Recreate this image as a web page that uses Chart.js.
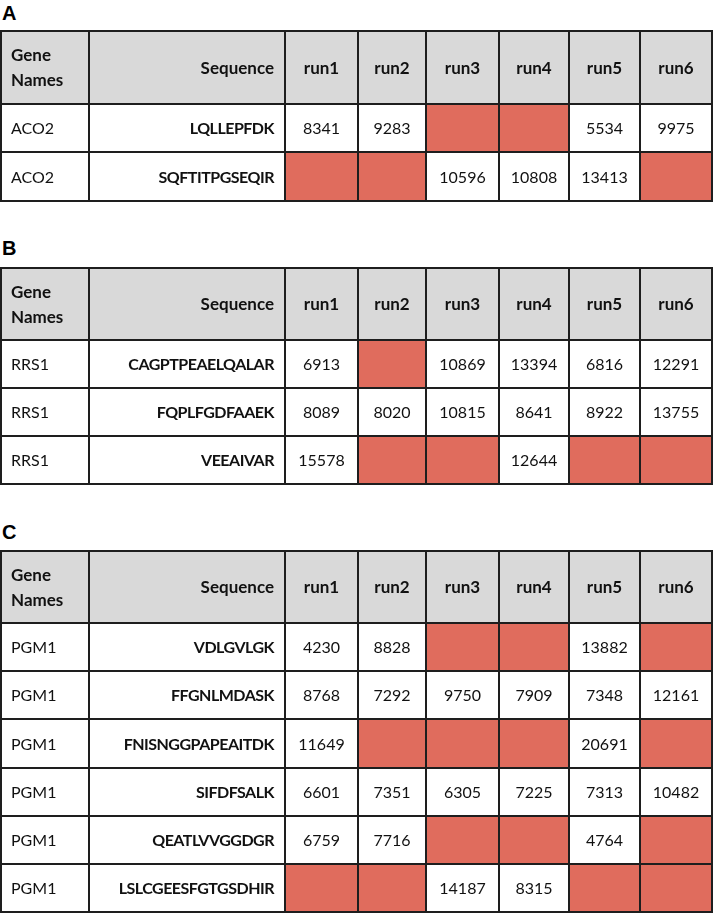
<!DOCTYPE html>
<html>
<head>
<meta charset="utf-8">
<script src="https://cdn.jsdelivr.net/npm/chart.js@4.4.1/dist/chart.umd.min.js"></script>
<style>
    body { margin: 0; background: #fff; width: 714px; height: 914px; position: relative; overflow: hidden; }
    .lbl { position: absolute; left: 2px; font: bold 20px "Liberation Sans", Arial, sans-serif; line-height: 20px; color: #000; }
    .panel { position: absolute; left: 0; width: 714px; }
</style>
</head>
<body>
<div class="lbl" style="top:3px">A</div>
<div class="panel" style="top:30px;height:172px"><canvas id="tableA"></canvas></div>
<div class="lbl" style="top:238px">B</div>
<div class="panel" style="top:267px;height:218px"><canvas id="tableB"></canvas></div>
<div class="lbl" style="top:522px">C</div>
<div class="panel" style="top:550px;height:363px"><canvas id="tableC"></canvas></div>

<script>
// Column titles
const columns = ['Gene Names', 'Sequence', 'run1', 'run2', 'run3', 'run4', 'run5', 'run6'];

// Panel A
const genesA = ['ACO2', 'ACO2'];
const seqA = ['LQLLEPFDK', 'SQFTITPGSEQIR'];
const valuesA = [
    [8341, 9283, null, null, 5534, 9975],
    [null, null, 10596, 10808, 13413, null]
];

// Panel B
const genesB = ['RRS1', 'RRS1', 'RRS1'];
const seqB = ['CAGPTPEAELQALAR', 'FQPLFGDFAAEK', 'VEEAIVAR'];
const valuesB = [
    [6913, null, 10869, 13394, 6816, 12291],
    [8089, 8020, 10815, 8641, 8922, 13755],
    [15578, null, null, 12644, null, null]
];

// Panel C
const genesC = ['PGM1', 'PGM1', 'PGM1', 'PGM1', 'PGM1', 'PGM1'];
const seqC = ['VDLGVLGK', 'FFGNLMDASK', 'FNISNGGPAPEAITDK', 'SIFDFSALK', 'QEATLVVGGDGR', 'LSLCGEESFGTGSDHIR'];
const valuesC = [
    [4230, 8828, null, null, 13882, null],
    [8768, 7292, 9750, 7909, 7348, 12161],
    [11649, null, null, null, 20691, null],
    [6601, 7351, 6305, 7225, 7313, 10482],
    [6759, 7716, null, null, 4764, null],
    [null, null, 14187, 8315, null, null]
];

// layout (scale units)
const colWidths = [88, 196, 73, 68, 73, 70, 71, 72];
const HEADER_UNITS = 1.5;
const FONT = 'Lato, "Open Sans", sans-serif';

const colEdges = colWidths.reduce((acc, w) => { acc.push(acc[acc.length - 1] + w); return acc; }, [0]);

function makeTablePlugin(genes, seqs, values) {
    return {
        id: 'tableCells',
        afterDraw(chart) {
            const { ctx, scales: { x, y } } = chart;
            const px = v => Math.round(x.getPixelForValue(v));
            const py = v => Math.round(y.getPixelForValue(v));
            const nRows = genes.length;

            ctx.save();
            // header
            const hy0 = py(0), hy1 = py(HEADER_UNITS);
            ctx.fillStyle = '#d9d9d9';
            ctx.fillRect(px(colEdges[0]), hy0, px(colEdges[colEdges.length - 1]) - px(colEdges[0]), hy1 - hy0);

            ctx.fillStyle = '#111';
            ctx.textBaseline = 'middle';
            ctx.font = 'bold 17px ' + FONT;
            const hmid = (hy0 + hy1) / 2 + 1;
            ctx.textAlign = 'left';
            ctx.fillText('Gene', px(colEdges[0]) + 10, hmid - 12.5);
            ctx.fillText('Names', px(colEdges[0]) + 10, hmid + 12.5);
            ctx.textAlign = 'right';
            ctx.fillText(columns[1], px(colEdges[2]) - 11, hmid);
            ctx.textAlign = 'center';
            for (let c = 2; c < columns.length; c++) {
                ctx.fillText(columns[c], (px(colEdges[c]) + px(colEdges[c + 1])) / 2, hmid);
            }

            // body rows
            for (let r = 0; r < nRows; r++) {
                const y0 = py(HEADER_UNITS + r), y1 = py(HEADER_UNITS + r + 1);
                const mid = (y0 + y1) / 2 + 1;
                values[r].forEach((v, i) => {
                    const c = i + 2;
                    const x0 = px(colEdges[c]), x1 = px(colEdges[c + 1]);
                    if (v === null) {
                        ctx.fillStyle = '#e06c5d';
                        ctx.fillRect(x0, y0, x1 - x0, y1 - y0);
                    } else {
                        ctx.fillStyle = '#111';
                        ctx.font = '16px ' + FONT;
                        ctx.textAlign = 'center';
                        ctx.fillText(String(v), (x0 + x1) / 2, mid);
                    }
                });
                ctx.fillStyle = '#111';
                ctx.font = '16px ' + FONT;
                ctx.textAlign = 'left';
                ctx.fillText(genes[r], px(colEdges[0]) + 10, mid);
                ctx.font = 'bold 16px ' + FONT;
                ctx.letterSpacing = '-0.5px';
                ctx.textAlign = 'right';
                ctx.fillText(seqs[r], px(colEdges[2]) - 11, mid);
                ctx.letterSpacing = '0px';
            }

            // grid lines
            ctx.strokeStyle = '#1e1e1e';
            ctx.lineWidth = 2;
            ctx.beginPath();
            const top = py(0), bottom = py(HEADER_UNITS + nRows);
            colEdges.forEach(e => { ctx.moveTo(px(e), top - 1); ctx.lineTo(px(e), bottom + 1); });
            const rowEdges = [0];
            for (let r = 0; r <= nRows; r++) rowEdges.push(HEADER_UNITS + r);
            const left = px(colEdges[0]), right = px(colEdges[colEdges.length - 1]);
            rowEdges.forEach(e => { ctx.moveTo(left - 1, py(e)); ctx.lineTo(right + 1, py(e)); });
            ctx.stroke();
            ctx.restore();
        }
    };
}

function initTable(canvasId, genes, seqs, values) {
    const canvas = document.getElementById(canvasId);
    return new Chart(canvas.getContext('2d'), {
        type: 'scatter',
        data: { datasets: [] },
        options: {
            responsive: true,
            maintainAspectRatio: false,
            animation: false,
            events: [],
            layout: { padding: { left: 1, right: 2, top: 1, bottom: 1 } },
            plugins: { legend: { display: false }, tooltip: { enabled: false } },
            scales: {
                x: { type: 'linear', display: false, min: 0, max: colEdges[colEdges.length - 1] },
                y: { type: 'linear', display: false, reverse: true, min: 0, max: HEADER_UNITS + genes.length }
            }
        },
        plugins: [makeTablePlugin(genes, seqs, values)]
    });
}

initTable('tableA', genesA, seqA, valuesA);
initTable('tableB', genesB, seqB, valuesB);
initTable('tableC', genesC, seqC, valuesC);
</script>
</body>
</html>
